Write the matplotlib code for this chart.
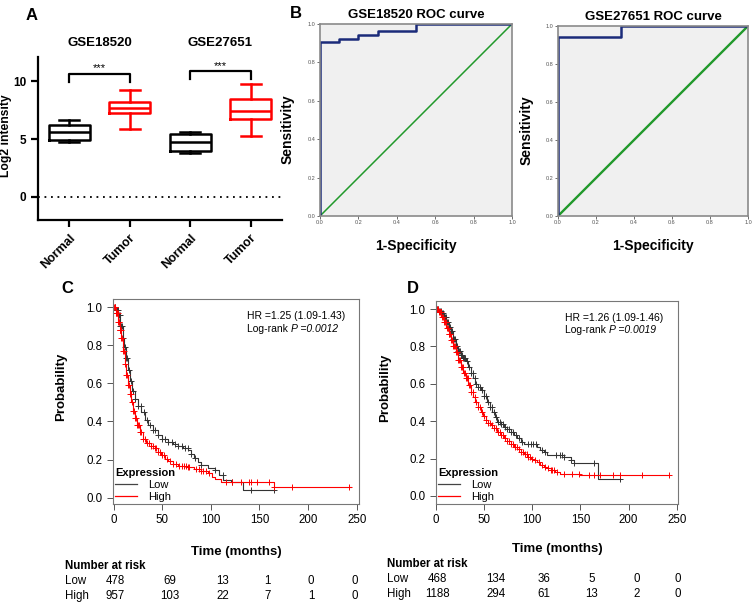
import numpy as np
import matplotlib.pyplot as plt
from matplotlib.lines import Line2D

plt.rcParams['font.family'] = ['Liberation Sans', 'DejaVu Sans']

# ---- panel A: box plot summaries (log2 intensity)
box_labels = ['Normal', 'Tumor', 'Normal', 'Tumor']
box_whislo = [4.72, 5.86, 3.83, 5.28]
box_q1 = [4.93, 7.28, 3.94, 6.78]
box_med = [5.65, 7.68, 4.75, 7.45]
box_q3 = [6.26, 8.23, 5.45, 8.49]
box_whishi = [6.64, 9.25, 5.57, 9.74]
box_colors = ['black', 'red', 'black', 'red']
datasets = ['GSE18520', 'GSE27651']
sig_y = [10.64, 10.87]
sig_drop = [9.94, 10.23]

# ---- panel B: ROC curves
roc1_fpr = [0, 0, 0.1, 0.1, 0.2, 0.2, 0.3, 0.3, 0.5, 0.5, 1.0]
roc1_tpr = [0, 0.906, 0.906, 0.924, 0.924, 0.944, 0.944, 0.962, 0.962, 1.0, 1.0]
roc2_fpr = [0, 0, 0.333, 0.333, 1.0]
roc2_tpr = [0, 0.944, 0.944, 1.0, 1.0]
roc_titles = ['GSE18520 ROC curve', 'GSE27651 ROC curve']

# ---- panels C / D: Kaplan-Meier curves
c_low_t = [0, 2, 4.5, 7, 9.6, 11, 13, 15, 16.5, 19, 21.6, 25, 28.5, 32, 35, 40, 45.6, 50, 56, 61, 66,
           71, 76.5, 80, 83, 87, 90, 97, 104, 108, 112.5, 121, 132.7, 164.6]
c_low_s = [1, 0.985, 0.958, 0.90, 0.836, 0.79, 0.73, 0.67, 0.61, 0.56, 0.52, 0.48, 0.45, 0.41, 0.38,
           0.355, 0.33, 0.31, 0.29, 0.28, 0.27, 0.26, 0.25, 0.23, 0.206, 0.185, 0.17, 0.155, 0.145,
           0.12, 0.093, 0.082, 0.038, 0.038]
c_high_t = [0, 2, 4.5, 6, 8, 10, 11.3, 13, 14.7, 16.5, 18.2, 20, 21.6, 24, 26.7, 30, 33.6, 38, 42, 46,
            49, 53, 56, 61, 66, 75, 83, 90, 97, 101, 104, 110.8, 164.6, 243.8]
c_high_s = [1, 0.97, 0.923, 0.88, 0.836, 0.77, 0.70, 0.645, 0.59, 0.545, 0.50, 0.455, 0.416, 0.38,
            0.346, 0.31, 0.285, 0.27, 0.26, 0.24, 0.224, 0.205, 0.19, 0.178, 0.168, 0.16, 0.15,
            0.14, 0.128, 0.11, 0.098, 0.082, 0.057, 0.057]
c_low_cens = [1, 2, 3, 4, 5, 6, 7, 8, 9, 10, 12, 13, 14, 16, 18, 20, 22, 25, 28, 31, 34, 37, 40, 43,
              46, 50, 53, 56, 60, 63, 66, 70, 73, 76, 80, 84, 90, 104, 112, 122, 141.5, 164.6]
c_high_cens = [0.5, 1, 1.5, 2, 2.5, 3, 3.5, 4, 4.5, 5, 5.5, 6, 6.5, 7, 7.5, 8, 9, 10, 11, 12, 13, 14,
               15, 16, 17, 18, 19, 20, 21, 22, 23, 24, 25, 26, 27, 28, 30, 32, 34, 36, 38, 40, 42,
               44, 46, 48, 50, 52, 55, 58, 61, 64, 67, 70, 72, 74, 76, 78, 85, 88, 90, 92, 95, 98,
               116, 122, 130.5, 139, 141.6, 147, 159.5, 165, 183.5, 242]

d_low_t = [0, 3, 5.2, 8, 10.3, 13, 15.5, 18, 20.7, 23, 25.9, 28, 31, 33.5, 36, 38.5, 41, 44, 46.6,
           50, 53.4, 56, 58.6, 61, 63.8, 67, 70.7, 74, 77.6, 81, 84.5, 88, 91.4, 105, 108, 112,
           115.5, 132.8, 139.7, 143, 167.8, 191.3]
d_low_s = [1, 0.99, 0.977, 0.955, 0.932, 0.905, 0.88, 0.84, 0.80, 0.775, 0.754, 0.74, 0.72, 0.69,
           0.656, 0.63, 0.60, 0.585, 0.567, 0.535, 0.504, 0.475, 0.45, 0.425, 0.398, 0.385, 0.37,
           0.357, 0.344, 0.325, 0.308, 0.29, 0.276, 0.26, 0.245, 0.237, 0.22, 0.21, 0.193, 0.175,
           0.09, 0.09]
d_high_t = [0, 2.5, 5.2, 8, 10.3, 13, 15.5, 18, 20.7, 23, 25.9, 28.5, 31, 33.5, 36, 38.5, 41, 44,
            46.6, 49, 51.7, 54, 57, 60, 63.8, 67, 70.7, 74, 77.6, 81, 84.5, 88, 91.4, 95, 98.3,
            101.5, 105, 108.5, 112, 115.5, 119, 124, 129, 150, 242.4]
d_high_s = [1, 0.985, 0.96, 0.93, 0.897, 0.865, 0.834, 0.80, 0.772, 0.73, 0.692, 0.66, 0.63, 0.595,
            0.558, 0.53, 0.505, 0.478, 0.45, 0.428, 0.406, 0.393, 0.38, 0.362, 0.344, 0.325, 0.308,
            0.292, 0.276, 0.263, 0.25, 0.236, 0.222, 0.211, 0.20, 0.19, 0.18, 0.168, 0.157, 0.148,
            0.14, 0.13, 0.12, 0.112, 0.112]
d_low_cens = [1, 2, 3, 4, 5, 6, 7, 8, 9, 10, 11, 12, 13, 14, 15, 16, 17, 18, 19, 20, 21, 22, 23, 24,
              25, 26, 27, 28, 29, 30, 32, 34, 36, 38, 40, 42, 44, 46, 48, 50, 52, 54, 56, 58, 60,
              62, 64, 66, 68, 70, 72, 74, 76, 78, 80, 83, 86, 89, 96, 99, 101, 104, 110, 113, 125,
              129, 131, 133, 140, 143, 164, 191.3]
d_high_cens = [1, 2, 3, 4, 5, 6, 7, 8, 9, 10, 11, 12, 13, 14, 15, 16, 17, 18, 19, 20, 21, 22, 23, 24,
               25, 26, 27, 28, 29, 30, 31, 32, 33, 34, 35, 36, 38, 40, 42, 44, 46, 48, 50, 52, 54,
               56, 58, 60, 62, 64, 66, 68, 70, 72, 74, 76, 78, 80, 82, 84, 86, 88, 90, 92, 94, 96,
               98, 100, 103, 107, 110, 113, 116, 119, 120.7, 123, 126, 132.7, 141.3, 149, 158.6,
               163.8, 170.6, 183.4, 191.3, 213.7, 242.3]

km_ticks = [0, 50, 100, 150, 200, 250]
c_risk_low = [478, 69, 13, 1, 0, 0]
c_risk_high = [957, 103, 22, 7, 1, 0]
d_risk_low = [468, 134, 36, 5, 0, 0]
d_risk_high = [1188, 294, 61, 13, 2, 0]
c_hr = ['HR =1.25 (1.09-1.43)', 'P =0.0012']
d_hr = ['HR =1.26 (1.09-1.46)', 'P =0.0019']

W, H = 753, 605
fig = plt.figure(figsize=(W / 100, H / 100), dpi=100)


def px_axes(x0, y0, x1, y1):
    return fig.add_axes([x0 / W, 1 - y1 / H, (x1 - x0) / W, (y1 - y0) / H])


# ================= A
axA = px_axes(38, 57, 282, 220)
stats = []
for i in range(4):
    stats.append(dict(whislo=box_whislo[i], q1=box_q1[i], med=box_med[i], q3=box_q3[i],
                      whishi=box_whishi[i], label=box_labels[i]))
bp = axA.bxp(stats, positions=[1, 2, 3, 4], widths=0.68, capwidths=0.33, showfliers=False)
for i, c in enumerate(box_colors):
    for art in [bp['boxes'][i], bp['medians'][i]]:
        art.set_color(c)
        art.set_linewidth(1.8)
    for art in bp['whiskers'][2 * i:2 * i + 2] + bp['caps'][2 * i:2 * i + 2]:
        art.set_color(c)
        art.set_linewidth(1.8)
axA.axhline(0, color='black', lw=1.3, ls=(0, (1, 2.6)))
for k in range(2):
    a, b = 1 + 2 * k, 2 + 2 * k
    axA.plot([a, a, b, b], [sig_drop[k], sig_y[k], sig_y[k], sig_drop[k]], color='black', lw=1.6)
    axA.text((a + b) / 2, sig_y[k] + 0.05, '***', ha='center', va='bottom', fontsize=8)
    axA.text((a + b) / 2, 1.085, datasets[k], transform=axA.get_xaxis_transform(),
             ha='center', va='center', fontsize=9.5, fontweight='bold')
axA.set_xlim(0.48, 4.52)
axA.set_ylim(-2.0, 12.1)
axA.set_yticks([0, 5, 10])
axA.set_xticks([1, 2, 3, 4])
axA.set_xticklabels(box_labels, rotation=45, ha='right', rotation_mode='anchor',
                    fontsize=9, fontweight='bold')
for lab in axA.get_yticklabels():
    lab.set_fontweight('bold')
    lab.set_fontsize(8.5)
axA.spines[['top', 'right']].set_visible(False)
for s in ['left', 'bottom']:
    axA.spines[s].set_linewidth(1.6)
axA.tick_params(width=1.6, length=5)
axA.set_ylabel('Log2 intensity', fontsize=8.7, fontweight='bold')
axA.yaxis.set_label_coords(-0.105, 0.52)

# ================= B
roc_boxes = [(320, 24, 512, 216), (558, 26, 748, 216)]
roc_data = [(roc1_fpr, roc1_tpr, 1.1), (roc2_fpr, roc2_tpr, 1.7)]
for (box, (fpr, tpr, dlw), title) in zip(roc_boxes, roc_data, roc_titles):
    ax = px_axes(*box)
    ax.set_facecolor('#f0f0f0')
    ax.plot([0, 1], [0, 1], color='#21992b', lw=dlw)
    ax.plot(fpr, tpr, color='#1b2b7a', lw=1.8)
    ax.set_xlim(0, 1)
    ax.set_ylim(0, 1)
    ticks = [0, 0.2, 0.4, 0.6, 0.8, 1.0]
    ax.set_xticks(ticks)
    ax.set_yticks(ticks)
    ax.set_xticklabels(['%.1f' % t for t in ticks])
    ax.set_yticklabels(['%.1f' % t for t in ticks])
    ax.tick_params(labelsize=4, length=2, width=0.6, pad=1, colors='#555555')
    for s in ax.spines.values():
        s.set_color('#8a8a8a')
        s.set_linewidth(1.2)
    ax.set_title(title, fontsize=9.5, fontweight='bold', pad=4)
    ax.set_ylabel('Sensitivity', fontsize=10, fontweight='bold')
    ax.yaxis.set_label_coords(-0.13, 0.45)
    ax.set_xlabel('1-Specificity', fontsize=10, fontweight='bold')
    ax.xaxis.set_label_coords(0.5, -0.12)


# ================= C / D
def step_value(t, s, tc):
    idx = np.searchsorted(t, tc, side='right') - 1
    return np.asarray(s)[idx]


def km_panel(box, xlim, ylim, curves, hr, hr_x, risk, risk_px, label_x_px, tl_y, off):
    ax = px_axes(*box)
    for t, s, cens, col in curves:
        ax.plot(t, s, drawstyle='steps-post', color=col, lw=0.8)
        ax.plot(cens, step_value(np.asarray(t), s, np.asarray(cens)), ls='none', marker='+',
                ms=5, mew=0.7, color=col)
    ax.set_xlim(*xlim)
    ax.set_ylim(*ylim)
    ax.set_xticks(km_ticks)
    ax.set_yticks([0, 0.2, 0.4, 0.6, 0.8, 1.0])
    ax.set_yticklabels(['0.0', '0.2', '0.4', '0.6', '0.8', '1.0'])
    ax.tick_params(labelsize=8.3, length=4, width=0.7, color='#555555')
    for sp in ax.spines.values():
        sp.set_color('#777777')
        sp.set_linewidth(0.8)
    ax.set_ylabel('Probability', fontsize=9.5, fontweight='bold')
    ax.yaxis.set_label_coords(-0.187, 0.57)
    ax.set_xlabel('Time (months)', fontsize=9.5, fontweight='bold')
    ax.xaxis.set_label_coords(0.5, tl_y)
    ax.text(hr_x, 0.915, hr[0], transform=ax.transAxes, fontsize=7.5, va='center')
    t2 = ax.text(hr_x, 0.855, 'Log-rank ', transform=ax.transAxes, fontsize=7.5, va='center')
    ax.annotate(hr[1], xy=(1, 0), xycoords=t2, va='bottom', fontsize=7.5, style='italic')
    handles = [Line2D([], [], color='#444444', lw=0.9), Line2D([], [], color='red', lw=0.9)]
    ax.legend(handles, ['Low', 'High'], title='Expression', loc='lower left',
              frameon=False, fontsize=8, title_fontproperties={'weight': 'bold', 'size': 8},
              alignment='left', handlelength=2.0, handletextpad=1.0, borderaxespad=0.1,
              labelspacing=0.15, borderpad=0.1, markerfirst=True)
    y0, y1 = box[1], box[3]
    ys_ax = [(y1 - yp) / (y1 - y0) for yp in risk_px]
    lx = (label_x_px - box[0]) / (box[2] - box[0])
    ax.text(lx, ys_ax[0], 'Number at risk', transform=ax.transAxes, fontsize=8.3,
            fontweight='bold', va='center')
    tr = ax.get_xaxis_transform()
    for name, row, y in zip(['Low', 'High'], risk, ys_ax[1:]):
        ax.text(lx, y, name, transform=ax.transAxes, fontsize=8.3, va='center')
        for tk, v, o in zip(km_ticks, row, off):
            ax.text(tk + o, y, str(v), transform=tr, fontsize=8.3, ha='center', va='center')
    return ax


axC = km_panel((113, 299, 359, 504), (-0.7, 252.4), (-0.033, 1.042),
               [(c_low_t, c_low_s, c_low_cens, '#333333'),
                (c_high_t, c_high_s, c_high_cens, 'red')],
               c_hr, 0.545, [c_risk_low, c_risk_high], [566, 581, 596], 65, -0.205,
               [2, 8, 12, 8, 3, -2])
axD = km_panel((436, 301, 678, 504), (0.8, 251.3), (-0.043, 1.043),
               [(d_low_t, d_low_s, d_low_cens, '#333333'),
                (d_high_t, d_high_s, d_high_cens, 'red')],
               d_hr, 0.535, [d_risk_low, d_risk_high], [564, 579, 594], 387, -0.19,
               [2, 12, 12, 12, 8, 1])

# panel letters
for lab, x, y in [('A', 32, 15), ('B', 296, 14), ('C', 67, 288), ('D', 413, 288)]:
    fig.text(x / W, 1 - y / H, lab, fontsize=12, fontweight='bold', ha='center', va='center')

fig.savefig('out.png', dpi=100)
